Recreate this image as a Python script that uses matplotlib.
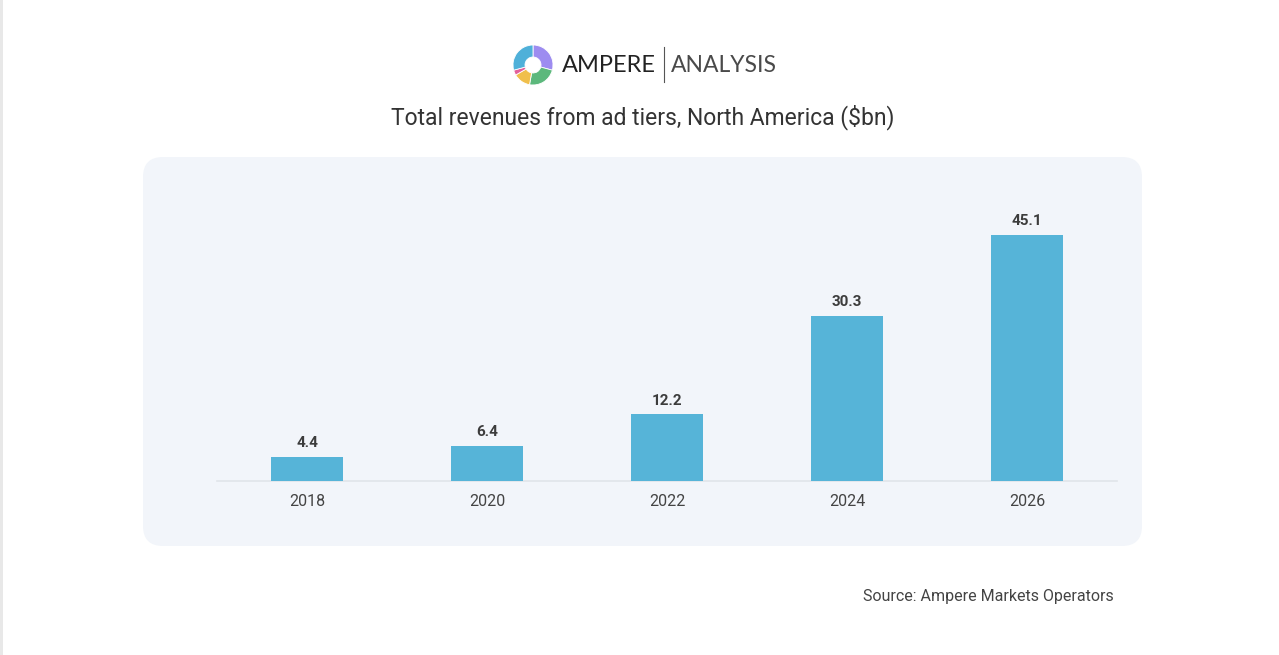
"""Ad tier revenue bar chart, Ampere Analysis style."""

import matplotlib

matplotlib.use("Agg")
import matplotlib.pyplot as plt
from matplotlib.patches import FancyBboxPatch, Rectangle, Wedge

years = ["2018", "2020", "2022", "2024", "2026"]
revenues = [4.4, 6.4, 12.2, 30.3, 45.1]

title = "Total revenues from ad tiers, North America ($bn)"
source = "Source: Ampere Markets Operators"

W, H = 1279, 655
BAR_COLOR = "#56b4d8"
PANEL_COLOR = "#f2f5fa"
TEXT_DARK = "#3c3c3c"

plt.rcParams["font.family"] = ["Roboto", "DejaVu Sans"]


def fx(px):
    return px / W


def fy(py):
    # py measured from the top of the image
    return 1.0 - py / H


fig = plt.figure(figsize=(W / 100, H / 100), dpi=100)
fig.patch.set_facecolor("white")

# background layer in pixel coordinates (y grows downwards)
bg = fig.add_axes((0, 0, 1, 1), zorder=-1)
bg.set_xlim(0, W)
bg.set_ylim(H, 0)
bg.axis("off")
bg.add_patch(Rectangle((0, 0), 3, H, facecolor="#e8e8e8", edgecolor="none"))

panel_l, panel_r, panel_t, panel_b = 143, 1142, 157, 546
rad = 20
bg.add_patch(
    FancyBboxPatch(
        (panel_l + rad, panel_t + rad),
        panel_r - panel_l - 2 * rad,
        panel_b - panel_t - 2 * rad,
        boxstyle=f"round,pad={rad}",
        facecolor=PANEL_COLOR,
        edgecolor="none",
    )
)
bg.plot([664, 664], [47, 82], color="#555555", linewidth=0.8)

# main bar axes
base_y, top_y = 481, 200
px_per_unit = (481 - 235) / 45.1
ax = fig.add_axes((fx(217), fy(base_y), fx(1117 - 217), (base_y - top_y) / H))
ax.set_facecolor("none")
x = range(len(years))
bars = ax.bar(x, revenues, width=0.4, color=BAR_COLOR, zorder=3)
ax.set_xlim(-0.5, len(years) - 0.5)
ax.set_ylim(0, (base_y - top_y) / px_per_unit)
for spine in ("top", "right", "left"):
    ax.spines[spine].set_visible(False)
ax.spines["bottom"].set_color("#e1e5ea")
ax.spines["bottom"].set_linewidth(1.2)
ax.set_yticks([])
ax.set_xticks(list(x))
ax.set_xticklabels(years, fontsize=11.5, color="#444444")
ax.tick_params(axis="x", length=0, pad=9)

for rect, value in zip(bars, revenues):
    ax.annotate(
        f"{value:.1f}",
        (rect.get_x() + rect.get_width() / 2, rect.get_height()),
        xytext=(0, 5),
        textcoords="offset points",
        ha="center",
        va="bottom",
        fontsize=11,
        fontweight="bold",
        color=TEXT_DARK,
    )

fig.text(fx(643), fy(117), title, ha="center", va="center", fontsize=16.5, color="#333333")
fig.text(fx(1114), fy(596), source, ha="right", va="center", fontsize=11.5, color="#444444")

# logo: donut plus wordmark
logo_ax = fig.add_axes((fx(511), fy(87), fx(44), 44 / H))
logo_ax.set_xlim(-22, 22)
logo_ax.set_ylim(-22, 22)
logo_ax.axis("off")
segments = [
    (-15, 90, "#9d8cf0"),
    (-100, -15, "#5cb87c"),
    (-150, -100, "#f0bf4c"),
    (-165, -150, "#e2619b"),
    (90, 195, "#4fb0d9"),
]
for theta1, theta2, color in segments:
    logo_ax.add_patch(
        Wedge((0, 0), 20, theta1, theta2, width=12, facecolor=color, edgecolor="white", linewidth=0.6)
    )

fig.text(fx(562), fy(65), "AMPERE", ha="left", va="center", fontsize=17, color="#222222", family="Lato")
fig.text(fx(671), fy(65), "ANALYSIS", ha="left", va="center", fontsize=16.5, color="#4a4a4a",
         family="Lato")

fig.savefig("out.png", dpi=100)
